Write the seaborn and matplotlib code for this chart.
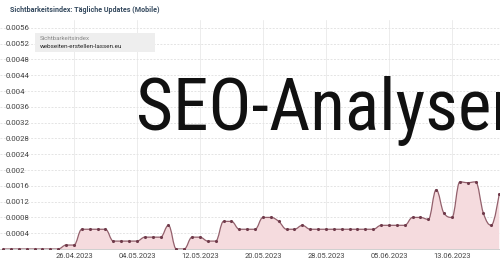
import numpy as np
import pandas as pd
import matplotlib
matplotlib.use("Agg")
import matplotlib.pyplot as plt
import seaborn as sns
from matplotlib.path import Path
from matplotlib.patches import PathPatch, Rectangle
from matplotlib import font_manager

# ---------------- data ----------------
start_date = "2023-04-17"
end_date = "2023-06-19"
values = [
    0, 0, 0, 0, 0, 0, 0, 0, 0.0001, 0.0001,            # 17.04 - 26.04
    0.0005, 0.0005, 0.0005, 0.0005,                      # 27.04 - 30.04
    0.0002, 0.0002, 0.0002, 0.0002, 0.0003, 0.0003,      # 01.05 - 06.05
    0.0003, 0.0006, 0, 0, 0.0003, 0.0003, 0.0002,        # 07.05 - 13.05
    0.0002, 0.0007, 0.0007, 0.0005, 0.0005, 0.0005,      # 14.05 - 19.05
    0.0008, 0.0008, 0.0007, 0.0005, 0.0005, 0.0006,      # 20.05 - 25.05
    0.0005, 0.0005, 0.0005, 0.0005, 0.0005, 0.0005,      # 26.05 - 31.05
    0.0005, 0.0005, 0.0005, 0.0006, 0.0006, 0.0006,      # 01.06 - 06.06
    0.0006, 0.0008, 0.0008, 0.00075, 0.0015, 0.0009,     # 07.06 - 12.06
    0.0008, 0.0017, 0.00168, 0.0017, 0.0009, 0.0006,     # 13.06 - 18.06
    0.0014,                                              # 19.06
]
y_ticks = [0.0004, 0.0008, 0.0012, 0.0016, 0.002, 0.0024, 0.0028,
           0.0032, 0.0036, 0.004, 0.0044, 0.0048, 0.0052, 0.0056]
y_tick_labels = ["0.0004", "0.0008", "0.0012", "0.0016", "0.002", "0.0024",
                 "0.0028", "0.0032", "0.0036", "0.004", "0.0044", "0.0048",
                 "0.0052", "0.0056"]
x_tick_labels = ["26.04.2023", "04.05.2023", "12.05.2023", "20.05.2023",
                 "28.05.2023", "05.06.2023", "13.06.2023"]
title = "Sichtbarkeitsindex: Tägliche Updates (Mobile)"
legend_title = "Sichtbarkeitsindex"
legend_site = "webseiten-erstellen-lassen.eu"
overlay_text = "SEO-Analysen"

# ---------------- build ----------------
dates = pd.date_range(start_date, end_date, freq="D")
df = pd.DataFrame({"date": dates, "value": values})
df["day"] = (df["date"] - dates[0]).dt.days
tick_days = [(pd.to_datetime(t, format="%d.%m.%Y") - dates[0]).days for t in x_tick_labels]

sns.set_theme(style="white")
FONT = ["Roboto", "DejaVu Sans"]
plt.rcParams["font.family"] = FONT

installed = {f.name for f in font_manager.fontManager.ttflist}
if "Roboto Condensed" in installed:
    OVER_FONT = ["Roboto Condensed", "Roboto"]
    over_size = 51.5
else:
    OVER_FONT = ["Roboto"]
    over_size = 47

fig = plt.figure(figsize=(5.0, 2.63), dpi=100)
ax = fig.add_axes([0.0, 14 / 263, 1.0, (249 - 20) / 263])

LINE = "#93606c"
DOT = "#6f3a4a"
FILL = "#f5dbde"


def hc_spline(x, y, smoothing=1.5):
    n = len(x)
    denom = smoothing + 1
    lc = [None] * n
    rc = [None] * n
    for i in range(1, n - 1):
        px, py = x[i], y[i]
        lx, ly = x[i - 1], y[i - 1]
        nx, ny = x[i + 1], y[i + 1]
        lcx = (smoothing * px + lx) / denom
        lcy = (smoothing * py + ly) / denom
        rcx = (smoothing * px + nx) / denom
        rcy = (smoothing * py + ny) / denom
        if rcx != lcx:
            corr = ((rcy - lcy) * (rcx - px)) / (rcx - lcx) + py - rcy
            lcy += corr
            rcy += corr
        if lcy > max(ly, py):
            lcy = max(ly, py); rcy = 2 * py - lcy
        elif lcy < min(ly, py):
            lcy = min(ly, py); rcy = 2 * py - lcy
        if rcy > max(ny, py):
            rcy = max(ny, py); lcy = 2 * py - rcy
        elif rcy < min(ny, py):
            rcy = min(ny, py); lcy = 2 * py - rcy
        lc[i] = (lcx, lcy)
        rc[i] = (rcx, rcy)
    verts = [(x[0], y[0])]
    codes = [Path.MOVETO]
    for i in range(1, n):
        c1 = rc[i - 1] if rc[i - 1] is not None else (x[i - 1], y[i - 1])
        c2 = lc[i] if lc[i] is not None else (x[i], y[i])
        verts += [c1, c2, (x[i], y[i])]
        codes += [Path.CURVE4] * 3
    return verts, codes


xs = df["day"].to_numpy(dtype=float)
ys = df["value"].to_numpy(dtype=float)
verts, codes = hc_spline(xs, ys)

fill_verts = verts + [(xs[-1], 0.0), (xs[0], 0.0), (xs[0], 0.0)]
fill_codes = codes + [Path.LINETO, Path.LINETO, Path.CLOSEPOLY]
ax.add_patch(PathPatch(Path(fill_verts, fill_codes), facecolor=FILL,
                       edgecolor="none", zorder=2))
ax.add_patch(PathPatch(Path(verts, codes), facecolor="none",
                       edgecolor=LINE, lw=0.9, zorder=3))
sns.scatterplot(data=df, x="day", y="value", ax=ax, s=5, color=DOT,
                linewidth=0, zorder=4, legend=False)

ax.set_xlim(-0.39, 63.1)
ax.set_ylim(0, 0.0058)
ax.set_yticks(y_ticks)
ax.set_yticklabels(y_tick_labels)
ax.set_xticks(tick_days)
ax.set_xticklabels(x_tick_labels)
ax.set_xlabel("")
ax.set_ylabel("")

ax.tick_params(axis="y", length=0, pad=-4, labelsize=5.6, labelcolor="#444444")
for lbl in ax.get_yticklabels():
    lbl.set_ha("left")
ax.tick_params(axis="x", length=0, pad=3, labelsize=5.4, labelcolor="#444444")

ax.grid(True, axis="y", color="#e4e4e4", lw=0.7, ls=(0, (2, 1.5)), zorder=0)
ax.grid(True, axis="x", color="#ececec", lw=0.7, zorder=0)
for s in ["left", "right", "top"]:
    ax.spines[s].set_visible(False)
ax.spines["bottom"].set_color("#cfcfcf")
ax.spines["bottom"].set_linewidth(0.7)

# title
fig.text(10 / 500, 1 - 10 / 263, title, ha="left", va="center",
         fontsize=5.1, fontweight="bold", color="#34495e", family=FONT)

# legend box
fig.patches.append(Rectangle((35 / 500, 1 - 52 / 263), 120 / 500, 19 / 263,
                             transform=fig.transFigure, facecolor="#eeeeee",
                             edgecolor="none", zorder=5))
fig.text(40 / 500, 1 - 38 / 263, legend_title, ha="left", va="center",
         fontsize=4.4, color="#888888", family=FONT, zorder=6)
fig.text(40 / 500, 1 - 46.5 / 263, legend_site, ha="left", va="center",
         fontsize=4.5, color="#222222", family=FONT, zorder=6)

# overlay
fig.text(136 / 500, 1 - 130 / 263, overlay_text, ha="left", va="baseline",
         fontsize=over_size, color="#111111", family=OVER_FONT, zorder=10)

fig.savefig("out.png", dpi=100)
